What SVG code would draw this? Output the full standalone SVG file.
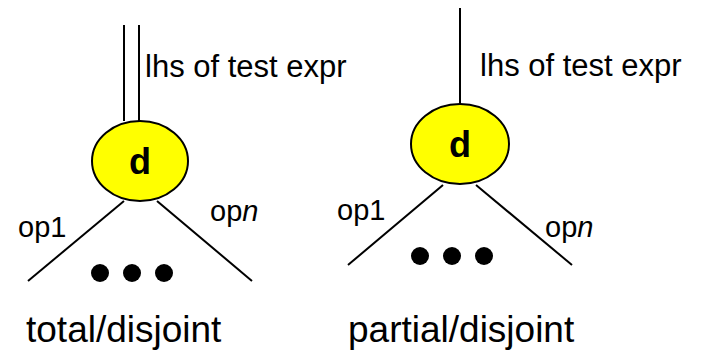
<svg xmlns="http://www.w3.org/2000/svg" width="706" height="350" viewBox="0 0 706 350">
<style>
.ln{stroke:#000;stroke-width:2;fill:none}
.nd{fill:#ffff00;stroke:#000;stroke-width:2}
.t{font-family:"Liberation Sans",Arial,sans-serif;fill:#000}
.d{font-family:"Liberation Sans",Arial,sans-serif;font-weight:bold;font-size:36px;text-anchor:middle}
</style>
<rect width="706" height="350" fill="#fff"/>
<g id="connectors">
<line class="ln" x1="124" y1="25" x2="124" y2="121"/>
<line class="ln" x1="139" y1="25" x2="139" y2="121"/>
<line class="ln" x1="124" y1="201" x2="28" y2="281"/>
<line class="ln" x1="157" y1="201" x2="252" y2="281"/>
<line class="ln" x1="460" y1="8" x2="460" y2="104"/>
<line class="ln" x1="443" y1="185" x2="348" y2="265"/>
<line class="ln" x1="476" y1="185" x2="572" y2="265"/>
</g>
<g id="node-left">
<ellipse class="nd" cx="140" cy="161" rx="48" ry="40"/>
<text class="d" x="140" y="174">d</text>
</g>
<g id="node-right">
<ellipse class="nd" cx="460" cy="144" rx="49" ry="40"/>
<text class="d" x="460" y="157">d</text>
</g>
<g id="dots-left">
<circle cx="100" cy="273" r="9"/>
<circle cx="132" cy="273" r="9"/>
<circle cx="164" cy="273" r="9"/>
</g>
<g id="dots-right">
<circle cx="420" cy="256" r="9"/>
<circle cx="452" cy="256" r="9"/>
<circle cx="484" cy="256" r="9"/>
</g>
<g id="labels" class="t">
<text class="t" x="145" y="77" font-size="31">lhs of test expr</text>
<text class="t" x="480" y="76" font-size="31">lhs of test expr</text>
<text class="t" x="18" y="237" font-size="29">op1</text>
<text class="t" x="210" y="221" font-size="29">op<tspan font-style="italic">n</tspan></text>
<text class="t" x="337" y="220" font-size="29">op1</text>
<text class="t" x="545" y="237" font-size="29">op<tspan font-style="italic">n</tspan></text>
<text class="t" x="26" y="342" font-size="37">total/disjoint</text>
<text class="t" x="348" y="342" font-size="37">partial/disjoint</text>
</g>
</svg>
